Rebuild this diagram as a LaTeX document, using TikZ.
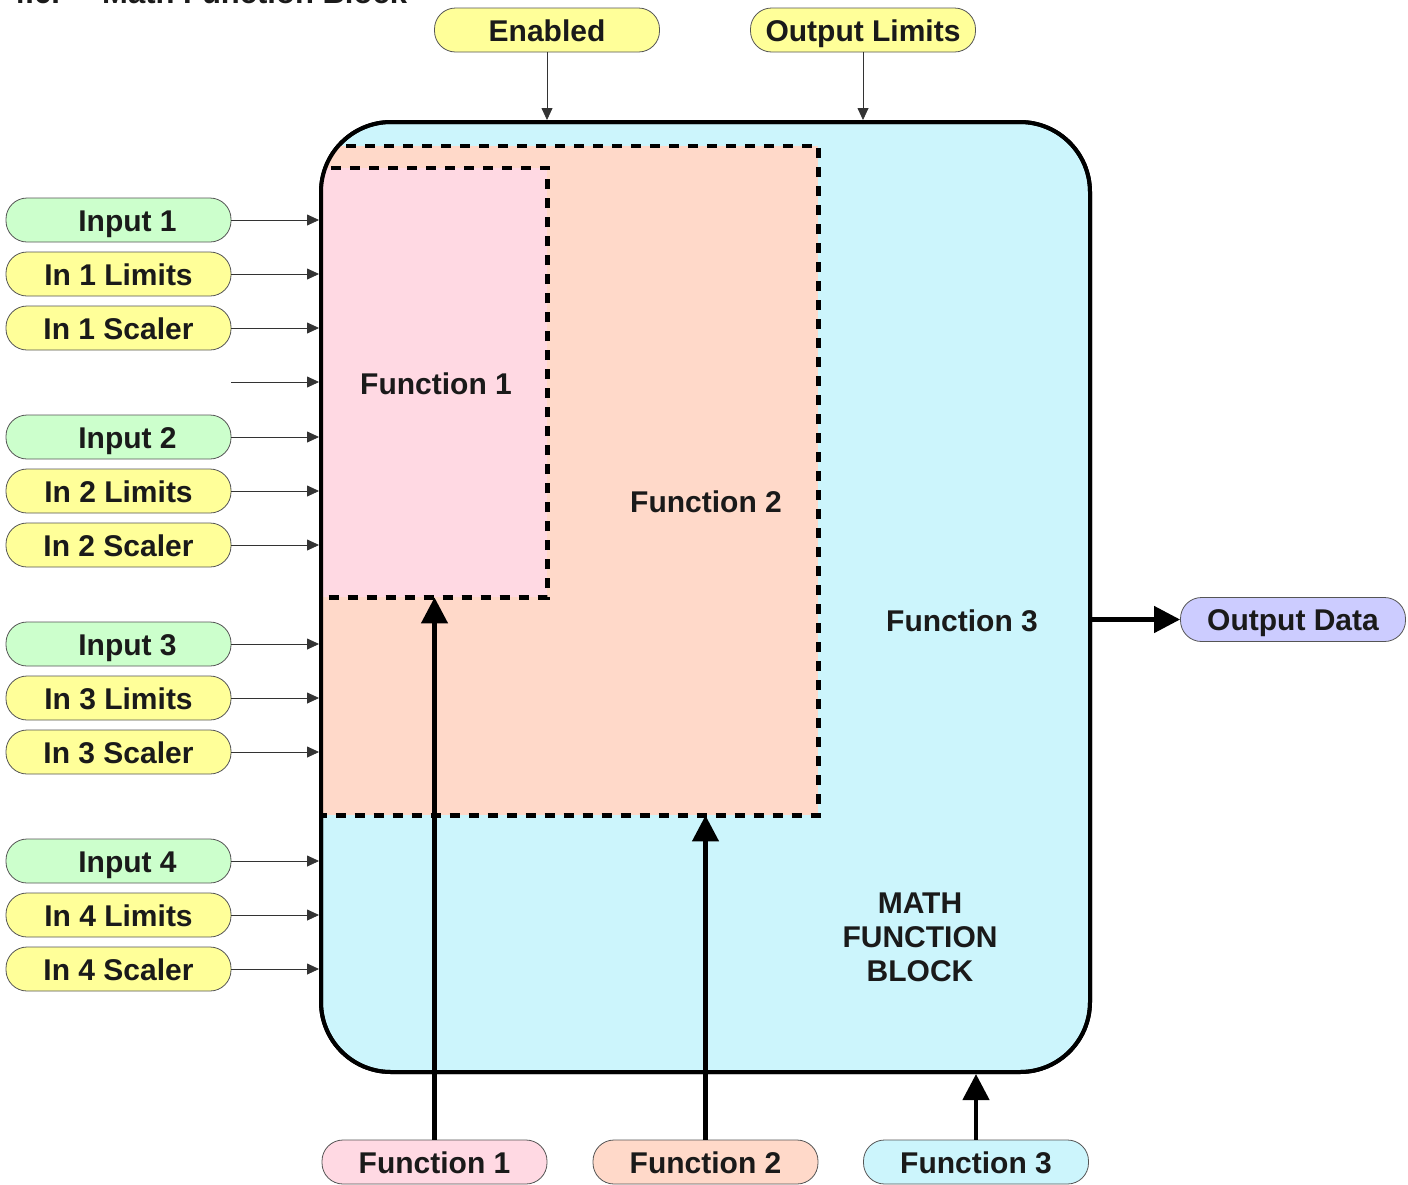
\documentclass[tikz,border=0pt]{standalone}
\usepackage{fontspec}
\setmainfont{Liberation Sans}
\usetikzlibrary{arrows.meta}
\definecolor{cyanf}{HTML}{CCF5FC}
\definecolor{peachf}{HTML}{FFD9C9}
\definecolor{pinkf}{HTML}{FFD9E3}
\definecolor{yellowf}{HTML}{FFFF99}
\definecolor{greenf}{HTML}{CCFFCC}
\definecolor{lavf}{HTML}{CCCCFF}
\definecolor{edgec}{HTML}{555555}
\definecolor{txt}{HTML}{1A1A1A}
\tikzset{
  lbl/.style={font=\fontsize{30}{35}\selectfont\bfseries, text=txt},
  pill/.style={lbl, draw=edgec, line width=0.8pt, rounded corners=21pt, minimum width=225pt, minimum height=44pt, inner sep=0pt, text height=22pt, text depth=0pt},
  ypill/.style={pill, fill=yellowf},
  gpill/.style={pill, fill=greenf},
  thinarr/.style={draw=black!80, line width=0.8pt, -{Triangle[length=12pt,width=11pt]}},
  thickarr/.style={draw=black, line width=4.5pt, -{Triangle[length=26pt,width=26pt]}},
  region/.style={inner sep=0pt, anchor=north west},
  dashbox/.style={draw=black, line width=4.5pt, dash pattern=on 10pt off 9pt},
}
\begin{document}
\begin{tikzpicture}[x=1pt,y=-1pt]
\useasboundingbox (0,0) rectangle (1408,1184);
% title (cut off at the top, as in the source page)
\node[lbl, anchor=base west, inner sep=0pt, font=\fontsize{31}{36}\selectfont\bfseries] (t1) at (8,3) {4.6.};
\node[lbl, anchor=base west, inner sep=0pt, font=\fontsize{31}{36}\selectfont\bfseries] (t2) at (102,3) {Math Function Block};
% main block
\node[draw=black, line width=4pt, fill=cyanf, rounded corners=70pt, minimum width=769pt, minimum height=950pt, inner sep=0pt] (box) at (705.5,597) {};
\begin{scope}
\clip[rounded corners=70pt] (321,122) rectangle (1090,1072);
\node[region, fill=peachf, minimum width=497pt, minimum height=669pt] (f2) at (321,146) {};
\node[region, fill=pinkf, minimum width=226pt, minimum height=429pt] (f1) at (321,168) {};
\end{scope}
\draw[black, line width=4pt, rounded corners=70pt] (321,122) rectangle (1090,1072);
\begin{scope}
\clip[rounded corners=70pt] (321,122) rectangle (1090,1072);
\draw[dashbox] (f2.north west) rectangle (f2.south east);
\draw[dashbox] (f1.north west) rectangle (f1.south east);
\end{scope}
\node[lbl, text height=22pt, text depth=0pt] (f1t) at (436,383) {Function 1};
\node[lbl, text height=22pt, text depth=0pt] (f2t) at (706,501) {Function 2};
\node[lbl, text height=22pt, text depth=0pt] (f3t) at (962,620) {Function 3};
\node[lbl, align=center, font=\fontsize{30}{34}\selectfont\bfseries] (mfb) at (920,937) {MATH\\FUNCTION\\BLOCK};
% top inputs
\node[ypill] (en) at (547,30) {Enabled};
\node[ypill] (ol) at (863,30) {Output Limits};
\draw[thinarr] (en.south) -- (en.south |- box.north);
\draw[thinarr] (ol.south) -- (ol.south |- box.north);
% left inputs
\node[gpill] (i1) at (118.5,220) {\hspace*{18pt}Input 1};
\node[ypill] (l1) at (118.5,274) {In 1 Limits};
\node[ypill] (s1) at (118.5,328) {In 1 Scaler};
\coordinate (blank) at (231,382);
\node[gpill] (i2) at (118.5,437) {\hspace*{18pt}Input 2};
\node[ypill] (l2) at (118.5,491) {In 2 Limits};
\node[ypill] (s2) at (118.5,545) {In 2 Scaler};
\node[gpill] (i3) at (118.5,644) {\hspace*{18pt}Input 3};
\node[ypill] (l3) at (118.5,698) {In 3 Limits};
\node[ypill] (s3) at (118.5,752) {In 3 Scaler};
\node[gpill] (i4) at (118.5,861) {\hspace*{18pt}Input 4};
\node[ypill] (l4) at (118.5,915) {In 4 Limits};
\node[ypill] (s4) at (118.5,969) {In 4 Scaler};
\foreach \n in {i1,l1,s1,i2,l2,s2,i3,l3,s3,i4,l4,s4}
  \draw[thinarr] (\n.east) -- (\n.east -| box.west);
\draw[thinarr] (blank) -- (blank -| box.west);
% output
\node[pill, fill=lavf] (out) at (1293,619.5) {Output Data};
\draw[thickarr] (box.east |- out.west) -- (out.west);
% bottom function selectors
\node[pill, fill=pinkf] (fn1) at (434.5,1162) {Function 1};
\node[pill, fill=peachf] (fn2) at (705.5,1162) {Function 2};
\node[pill, fill=cyanf] (fn3) at (976,1162) {Function 3};
\draw[thickarr] (fn1.north) -- (fn1.north |- f1.south);
\draw[thickarr] (fn2.north) -- (fn2.north |- f2.south);
\draw[thickarr] (fn3.north) -- (fn3.north |- box.south);
\end{tikzpicture}
\end{document}
